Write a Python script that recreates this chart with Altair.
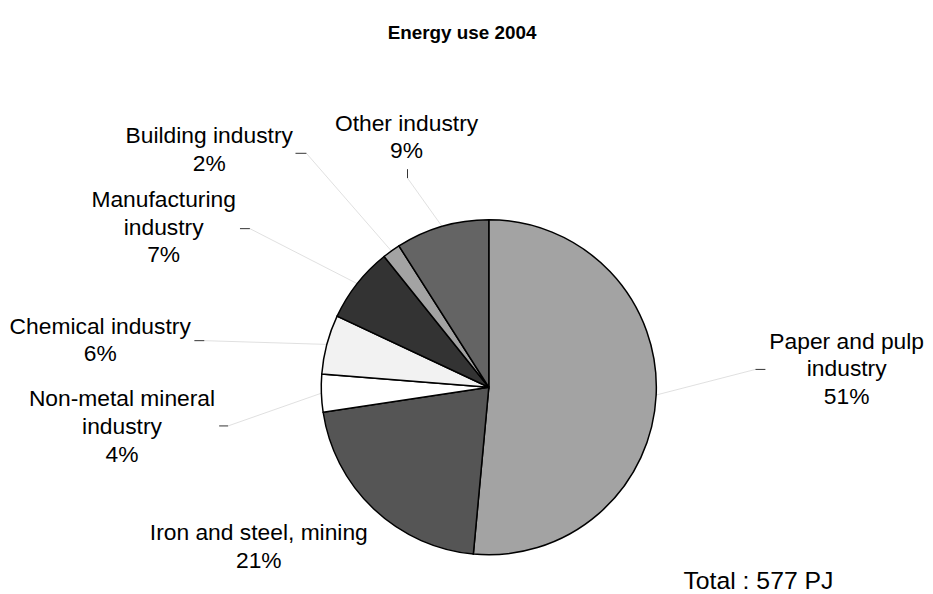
import math
import altair as alt
import pandas as pd

# ---- data ----
categories = [
    "Paper and pulp industry",
    "Iron and steel, mining",
    "Non-metal mineral industry",
    "Chemical industry",
    "Manufacturing industry",
    "Building industry",
    "Other industry",
]
values_pj = [297, 122, 21, 33, 42, 10, 52]
percent_labels = ["51%", "21%", "4%", "6%", "7%", "2%", "9%"]
label_names = [
    "Paper and pulp\nindustry",
    "Iron and steel, mining",
    "Non-metal mineral\nindustry",
    "Chemical industry",
    "Manufacturing\nindustry",
    "Building industry",
    "Other industry",
]
title_text = "Energy use 2004"
total_text = "Total : 577 PJ"

# ---- style / layout ----
palette = ["#a3a3a3", "#555555", "#ffffff", "#f2f2f2", "#333333", "#a3a3a3", "#646464"]
FONT = "Liberation Sans"
W, H = 917, 578
CX, CY, R = 485, 380, 169
# centre x and first-line y of each label block (px)
label_xy = [(846, 334), (253, 527), (115, 392), (93, 319), (157, 191), (203, 127), (402, 114)]
# short tick next to each label: (x1, y1, x2, y2), leader joins (x2, y2); None = no tick
ticks = [
    (764, 362, 754, 362),
    None,
    (213, 419, 222, 419),
    (188, 333, 198, 333),
    (234, 220, 244, 220),
    (290, 144, 301, 144),
    (403, 160, 403, 169),
]

df = pd.DataFrame({"category": categories, "value": values_pj, "idx": range(len(categories))})

total = sum(values_pj)
cum = 0
leader_rows, tick_rows, text_rows = [], [], []
for i, v in enumerate(values_pj):
    mid = (cum + v / 2) / total * 2 * math.pi
    cum += v
    ex, ey = CX + R * math.sin(mid), CY - R * math.cos(mid)
    t = ticks[i]
    if t is not None:
        tick_rows.append({"x": t[0], "y": t[1], "x2": t[2], "y2": t[3]})
        leader_rows.append({"x": ex, "y": ey, "x2": t[2], "y2": t[3]})
    lx, ly = label_xy[i]
    text_rows.append({"x": lx, "y": ly, "text": label_names[i] + "\n" + percent_labels[i]})

pie = alt.Chart(df).mark_arc(outerRadius=R, stroke="black", strokeWidth=1.5).encode(
    theta=alt.Theta("value:Q", stack=True),
    color=alt.Color("category:N", scale=alt.Scale(domain=categories, range=palette), legend=None),
    order=alt.Order("idx:Q"),
    x=alt.value(CX),
    y=alt.value(CY),
)

leaders = alt.Chart(pd.DataFrame(leader_rows)).mark_rule(color="#e0e0e0", strokeWidth=1).encode(
    x=alt.X("x:Q", scale=None), y=alt.Y("y:Q", scale=None),
    x2="x2:Q", y2="y2:Q",
)
tickmarks = alt.Chart(pd.DataFrame(tick_rows)).mark_rule(color="#333333", strokeWidth=1).encode(
    x=alt.X("x:Q", scale=None), y=alt.Y("y:Q", scale=None),
    x2="x2:Q", y2="y2:Q",
)
labels = alt.Chart(pd.DataFrame(text_rows)).mark_text(
    font=FONT, fontSize=23, lineBreak="\n", lineHeight=28, align="center", baseline="middle", color="black"
).encode(
    x=alt.X("x:Q", scale=None), y=alt.Y("y:Q", scale=None), text="text:N"
)
title = alt.Chart(pd.DataFrame({"t": [title_text]})).mark_text(
    font=FONT, fontSize=19, fontWeight="bold", align="center", baseline="middle", color="black"
).encode(x=alt.value(458), y=alt.value(23), text="t:N")
total_lbl = alt.Chart(pd.DataFrame({"t": [total_text]})).mark_text(
    font=FONT, fontSize=25, align="center", baseline="middle", color="black"
).encode(x=alt.value(757), y=alt.value(576), text="t:N")

chart = alt.layer(leaders, pie, tickmarks, labels, title, total_lbl).properties(
    width=W, height=H, padding=0
).configure_view(stroke=None)

chart.save("out.html", embed_options={"renderer": "svg", "actions": False})
